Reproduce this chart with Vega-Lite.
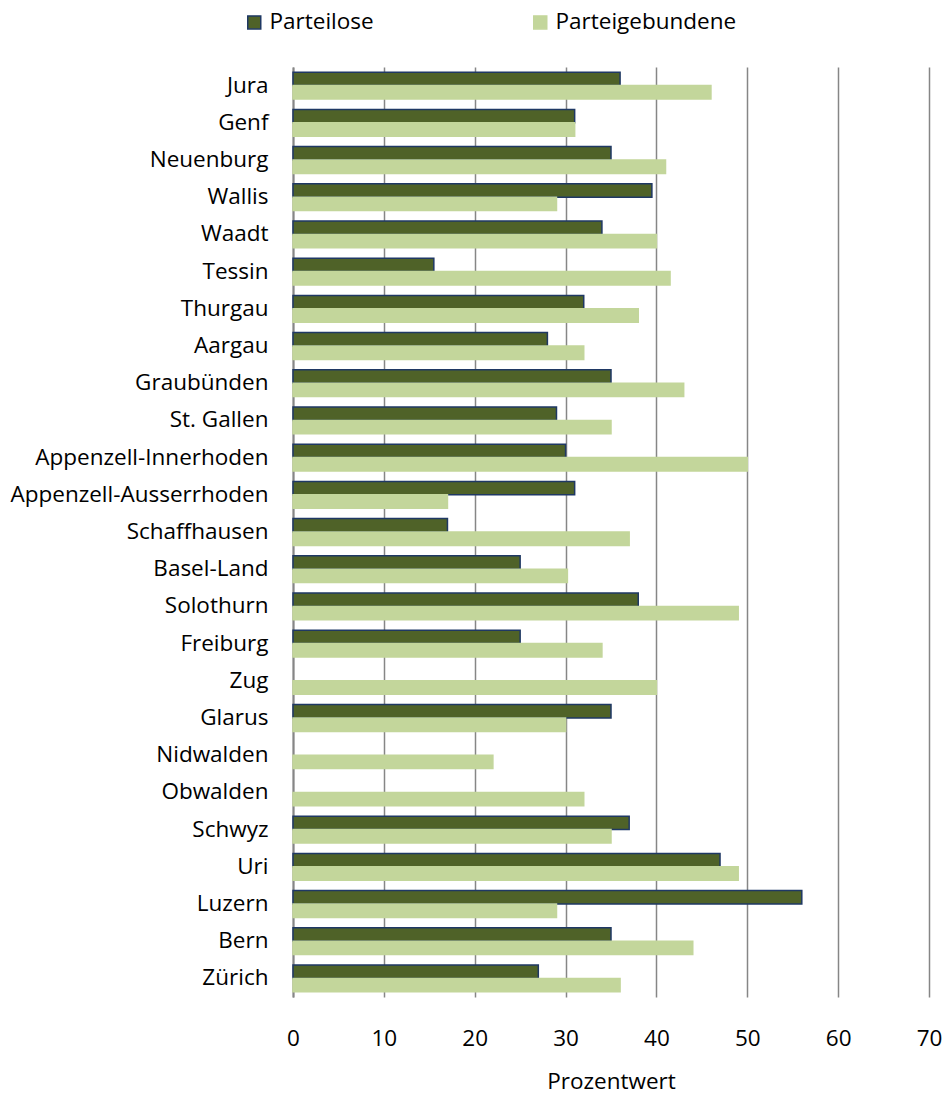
{
  "$schema": "https://vega.github.io/schema/vega-lite/v6.json",
  "autosize": "none",
  "width": 636,
  "height": 930,
  "padding": {"left": 293, "top": 67, "right": 14, "bottom": 100},
  "background": "white",
  "config": {
    "font": "Open Sans",
    "view": {"stroke": null}
  },
  "data": {
    "values": [
      {"kanton": "Jura", "gruppe": "Parteilose", "wert": 36},
      {"kanton": "Jura", "gruppe": "Parteigebundene", "wert": 46},
      {"kanton": "Genf", "gruppe": "Parteilose", "wert": 31},
      {"kanton": "Genf", "gruppe": "Parteigebundene", "wert": 31},
      {"kanton": "Neuenburg", "gruppe": "Parteilose", "wert": 35},
      {"kanton": "Neuenburg", "gruppe": "Parteigebundene", "wert": 41},
      {"kanton": "Wallis", "gruppe": "Parteilose", "wert": 39.5},
      {"kanton": "Wallis", "gruppe": "Parteigebundene", "wert": 29},
      {"kanton": "Waadt", "gruppe": "Parteilose", "wert": 34},
      {"kanton": "Waadt", "gruppe": "Parteigebundene", "wert": 40},
      {"kanton": "Tessin", "gruppe": "Parteilose", "wert": 15.5},
      {"kanton": "Tessin", "gruppe": "Parteigebundene", "wert": 41.5},
      {"kanton": "Thurgau", "gruppe": "Parteilose", "wert": 32},
      {"kanton": "Thurgau", "gruppe": "Parteigebundene", "wert": 38},
      {"kanton": "Aargau", "gruppe": "Parteilose", "wert": 28},
      {"kanton": "Aargau", "gruppe": "Parteigebundene", "wert": 32},
      {"kanton": "Graubünden", "gruppe": "Parteilose", "wert": 35},
      {"kanton": "Graubünden", "gruppe": "Parteigebundene", "wert": 43},
      {"kanton": "St. Gallen", "gruppe": "Parteilose", "wert": 29},
      {"kanton": "St. Gallen", "gruppe": "Parteigebundene", "wert": 35},
      {"kanton": "Appenzell-Innerhoden", "gruppe": "Parteilose", "wert": 30},
      {"kanton": "Appenzell-Innerhoden", "gruppe": "Parteigebundene", "wert": 50},
      {"kanton": "Appenzell-Ausserrhoden", "gruppe": "Parteilose", "wert": 31},
      {"kanton": "Appenzell-Ausserrhoden", "gruppe": "Parteigebundene", "wert": 17},
      {"kanton": "Schaffhausen", "gruppe": "Parteilose", "wert": 17},
      {"kanton": "Schaffhausen", "gruppe": "Parteigebundene", "wert": 37},
      {"kanton": "Basel-Land", "gruppe": "Parteilose", "wert": 25},
      {"kanton": "Basel-Land", "gruppe": "Parteigebundene", "wert": 30.2},
      {"kanton": "Solothurn", "gruppe": "Parteilose", "wert": 38},
      {"kanton": "Solothurn", "gruppe": "Parteigebundene", "wert": 49},
      {"kanton": "Freiburg", "gruppe": "Parteilose", "wert": 25},
      {"kanton": "Freiburg", "gruppe": "Parteigebundene", "wert": 34},
      {"kanton": "Zug", "gruppe": "Parteigebundene", "wert": 40},
      {"kanton": "Glarus", "gruppe": "Parteilose", "wert": 35},
      {"kanton": "Glarus", "gruppe": "Parteigebundene", "wert": 30},
      {"kanton": "Nidwalden", "gruppe": "Parteigebundene", "wert": 22},
      {"kanton": "Obwalden", "gruppe": "Parteigebundene", "wert": 32},
      {"kanton": "Schwyz", "gruppe": "Parteilose", "wert": 37},
      {"kanton": "Schwyz", "gruppe": "Parteigebundene", "wert": 35},
      {"kanton": "Uri", "gruppe": "Parteilose", "wert": 47},
      {"kanton": "Uri", "gruppe": "Parteigebundene", "wert": 49},
      {"kanton": "Luzern", "gruppe": "Parteilose", "wert": 56},
      {"kanton": "Luzern", "gruppe": "Parteigebundene", "wert": 29},
      {"kanton": "Bern", "gruppe": "Parteilose", "wert": 35},
      {"kanton": "Bern", "gruppe": "Parteigebundene", "wert": 44},
      {"kanton": "Zürich", "gruppe": "Parteilose", "wert": 27},
      {"kanton": "Zürich", "gruppe": "Parteigebundene", "wert": 36}
    ]
  },
  "mark": {"type": "bar", "strokeWidth": 1.5},
  "encoding": {
    "y": {
      "field": "kanton",
      "type": "nominal",
      "sort": ["Jura", "Genf", "Neuenburg", "Wallis", "Waadt", "Tessin", "Thurgau", "Aargau", "Graubünden", "St. Gallen", "Appenzell-Innerhoden", "Appenzell-Ausserrhoden", "Schaffhausen", "Basel-Land", "Solothurn", "Freiburg", "Zug", "Glarus", "Nidwalden", "Obwalden", "Schwyz", "Uri", "Luzern", "Bern", "Zürich"],
      "scale": {"paddingInner": 0.28, "paddingOuter": 0.14},
      "axis": {
        "title": null,
        "ticks": false,
        "domain": true,
        "domainColor": "#868686",
        "domainWidth": 2,
        "labelFontSize": 22.5,
        "labelColor": "#000000",
        "labelPadding": 25,
        "labelLimit": 400
      }
    },
    "yOffset": {
      "field": "gruppe",
      "type": "nominal",
      "sort": ["Parteilose", "Parteigebundene"],
      "scale": {"paddingInner": 0, "paddingOuter": 0}
    },
    "x": {
      "field": "wert",
      "type": "quantitative",
      "scale": {"domain": [0, 70], "nice": false},
      "axis": {
        "title": "Prozentwert",
        "titleFontSize": 22.5,
        "titleFontWeight": "normal",
        "titleColor": "#000000",
        "titlePadding": 21,
        "values": [0, 10, 20, 30, 40, 50, 60, 70],
        "grid": true,
        "gridColor": "#868686",
        "gridWidth": 1.5,
        "domain": false,
        "ticks": false,
        "labelFontSize": 22.5,
        "labelColor": "#000000",
        "labelPadding": 30,
        "labelFlush": false
      }
    },
    "fill": {
      "field": "gruppe",
      "type": "nominal",
      "sort": ["Parteilose", "Parteigebundene"],
      "scale": {"domain": ["Parteilose", "Parteigebundene"], "range": ["#4F6228", "#C3D69B"]},
      "legend": {
        "title": null,
        "orient": "none",
        "legendX": -50,
        "legendY": -56,
        "direction": "horizontal",
        "symbolType": "square",
        "symbolSize": 169,
        "symbolStrokeWidth": 1.5,
        "labelFontSize": 22.5,
        "labelColor": "#000000",
        "labelOffset": 4,
        "labelLimit": 400,
        "columnPadding": 155
      }
    },
    "stroke": {
      "field": "gruppe",
      "type": "nominal",
      "sort": ["Parteilose", "Parteigebundene"],
      "scale": {"domain": ["Parteilose", "Parteigebundene"], "range": ["#1F3864", "#C3D69B"]}
    }
  }
}
